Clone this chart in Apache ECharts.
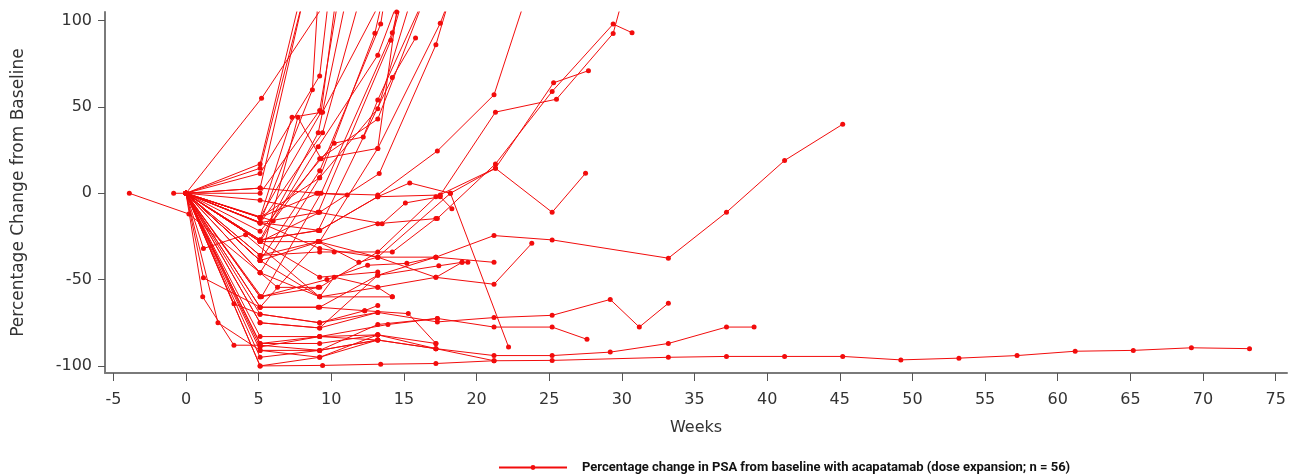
<!DOCTYPE html>
<html>
<head>
<meta charset="utf-8">
<script src="https://cdn.jsdelivr.net/npm/echarts@6/dist/echarts.min.js"></script>
<style>html,body{margin:0;padding:0;background:#fff}#c{width:1290px;height:476px}</style>
</head>
<body>
<div id="c"></div>
<script>
// tick labels
const xTicks = [-5,0,5,10,15,20,25,30,35,40,45,50,55,60,65,70,75];
const yTicks = [-100,-50,0,50,100];
const seriesName = 'Percentage change in PSA from baseline with acapatamab (dose expansion; n = 56)';

// one array per patient: [week, % change]
const p01 = [[0,0],[5.2,55],[9.4,108]];
const p02 = [[0,0],[5.1,17],[9.2,160]];
const p03 = [[0,0],[5.1,14.5],[9.2,150]];
const p04 = [[0,0],[5.1,3],[9.1,150]];
const p05 = [[0,0],[5.1,-17],[8.7,60],[9.1,115]];
const p06 = [[0,0],[5.1,11.5],[9.2,68],[13.2,360]];
const p07 = [[0,0],[5.1,-14],[9.3,47],[13.2,300]];
const p08 = [[0,0],[5.1,0],[9.2,48],[13.2,250]];
const p09 = [[0,0],[5.1,-27],[9.1,35],[13.2,200]];
const p10 = [[0,0],[5.1,-17.4],[9.4,35],[13.2,150]];
const p11 = [[0,0],[5.1,-28],[9.1,27],[13.2,80],[17.2,170]];
const p12 = [[0,0],[5.1,-39],[9.2,13],[13.4,98],[17.2,300]];
const p13 = [[0,0],[5.1,-46],[9.2,9],[13.0,92.7],[17.2,250]];
const p14 = [[0,0],[5.2,-60],[9.3,0],[14.2,93],[17.2,200]];
const p15 = [[0,0],[5.1,-17],[9.1,-11],[14.1,88.6],[17.2,180]];
const p16 = [[0,0],[5.1,-27],[9.1,-21.5],[14.2,67],[15.8,90]];
const p17 = [[0,0],[5.1,-28],[9.2,-11],[13.3,11.4],[17.2,86],[21.2,200]];
const p18 = [[0,0],[5.1,-39],[9.2,-28],[13.2,26],[17.5,98.5],[21.2,180]];
const p19 = [[0,0],[5.1,-14],[9.1,0],[13.2,-1],[17.3,24.5],[21.2,57],[25.2,160]];
const p20 = [[0,0],[5.1,-27],[9.2,-21.5],[13.2,-2],[17.5,-1],[21.3,47],[25.5,54.5],[29.4,92.6],[33.2,210]];
const p21 = [[0,0],[5.1,-36],[9.1,-28],[13.2,-17.6],[17.3,-14.6],[21.3,17],[25.2,59],[29.4,98],[30.7,93]];
const p22 = [[0,0],[5.1,-60],[9.2,-54.5],[13.2,-34],[17.2,-2],[21.3,14.5],[25.3,64],[27.7,71]];
const p23 = [[0,0],[5.1,-17],[9.2,-32],[13.2,-37],[18.2,0],[21.3,14.5],[25.2,-11],[27.5,11.6]];
const p24 = [[0,0],[5.1,-28],[9.1,-28],[13.2,-37],[17.2,-37],[21.2,-24.5],[25.2,-27],[33.2,-37.6],[37.2,-11],[41.2,19],[45.2,40]];
const p25 = [[0,0],[5.1,-39],[9.2,-60],[13.2,-54.5],[17.2,-48.7],[21.2,-52.7],[23.8,-29]];
const p26 = [[0,0],[5.1,-66],[9.2,-66],[13.2,-47.5],[17.4,-42],[19.0,-40],[19.4,-40]];
const p27 = [[0,0],[5.1,-60],[9.7,-50],[12.5,-41.7],[15.2,-40.6],[17.2,-37],[21.2,-40]];
const p28 = [[0,0],[5.1,-17],[9.2,-21.5],[13.2,-2],[15.4,6],[18.2,0],[22.2,-89]];
const p29 = [[0,0],[5.1,-75],[9.2,-78],[13.2,-69],[17.3,-74.5],[21.2,-72],[25.2,-70.7],[29.2,-61.5],[31.2,-77.5],[33.2,-63.7]];
const p30 = [[0,0],[5.1,-83],[9.2,-83],[13.9,-76],[17.3,-72.5],[21.2,-77.5],[25.2,-77.5],[27.6,-84.6]];
const p31 = [[0,0],[5.1,-91],[9.2,-91],[13.2,-85],[17.2,-90],[21.2,-94],[25.2,-94],[29.2,-92],[33.2,-87],[37.2,-77.5],[39.1,-77.5]];
const p32 = [[0,0],[5.1,-100],[9.4,-99.7],[13.4,-99],[17.2,-98.6],[21.2,-97],[25.2,-96.8],[33.2,-95],[37.2,-94.5],[41.2,-94.5],[45.2,-94.5],[49.2,-96.5],[53.2,-95.5],[57.2,-94],[61.2,-91.5],[65.2,-91],[69.2,-89.5],[73.2,-90]];
const p33 = [[0,0],[5.1,-87],[9.2,-87],[13.2,-82],[17.2,-87]];
const p34 = [[0,0],[5.1,-89],[9.2,-83],[13.2,-85],[17.2,-90]];
const p35 = [[0,0],[5.1,-95],[9.2,-91],[13.2,-76],[17.3,-72.5]];
const p36 = [[0,0],[1.2,-32],[4.1,-24],[9.2,-60],[14.2,-60]];
const p37 = [[0,0],[1.2,-49],[5.1,-66],[9.1,-66],[12.3,-68],[13.2,-65]];
const p38 = [[0,0],[1.15,-60],[3.3,-88],[5.1,-88],[9.2,-91],[13.2,-85]];
const p39 = [[0,0],[2.2,-75],[5.1,-91],[9.2,-95],[13.2,-82]];
const p40 = [[0,0],[3.3,-64],[5.1,-70],[9.2,-75],[13.2,-69]];
const p41 = [[-3.9,0],[0.2,-12],[5.1,-46],[6.3,-54.5],[9.1,-54.5]];
const p42 = [[-0.85,0],[0,0],[5.1,-28],[9.2,-48.6],[13.2,-45.6]];
const p43 = [[0,0],[5.1,3],[9.0,0],[11.1,-1]];
const p44 = [[0,0],[5.1,-4],[9.1,-11],[13.5,-17.6],[15.1,-5.6],[17.5,-2],[18.3,-9]];
const p45 = [[0,0],[6.0,-16],[9.2,20],[13.2,43],[17.2,130]];
const p46 = [[0,0],[5.1,-14],[9.2,9],[13.2,49],[16.5,140]];
const p47 = [[0,0],[5.1,-22],[10.2,29],[12.2,32.6],[13.2,54],[16.5,115]];
const p48 = [[0,0],[5.1,-36],[9.2,-34],[10.2,-34],[14.2,-34],[17.2,-14.6]];
const p49 = [[0,0],[5.1,-46],[9.2,-60],[10.2,-48.6],[13.2,-54.5],[14.2,-60]];
const p50 = [[0,0],[5.1,-70],[9.2,-75],[12.3,-68],[15.3,-69.7],[17.2,-87]];
const p51 = [[0,0],[5.1,-87],[9.2,-83],[13.2,-82],[17.2,-90],[21.2,-97]];
const p52 = [[0,0],[5.1,-100],[9.2,-95],[13.2,-85]];
const p53 = [[0,0],[5.1,-14],[7.3,44],[9.4,47],[13.2,108]];
const p54 = [[0,0],[5.1,-39],[7.7,44],[9.3,20],[13.2,26],[14.5,105]];
const p55 = [[0,0],[5.1,-66],[9.1,-28],[11.9,-40],[13.2,-37],[17.2,-48.7],[19.0,-40]];
const p56 = [[0,0],[5.1,-75],[9.2,-78],[13.2,-47.5],[17.2,-37]];

const patients = [p01,p02,p03,p04,p05,p06,p07,p08,p09,p10,p11,p12,p13,p14,p15,p16,p17,p18,p19,p20,
  p21,p22,p23,p24,p25,p26,p27,p28,p29,p30,p31,p32,p33,p34,p35,p36,p37,p38,p39,p40,
  p41,p42,p43,p44,p45,p46,p47,p48,p49,p50,p51,p52,p53,p54,p55,p56];

const RED = '#f20c0c';
const chart = echarts.init(document.getElementById('c'), null, {renderer:'canvas'});
const axisFont = "'DejaVu Sans', 'Liberation Sans', sans-serif";
chart.setOption({
  animation: false,
  backgroundColor: '#fff',
  grid: {left: 105, right: 3, top: 12, bottom: 103, containLabel: false},
  legend: {
    data: [{name: seriesName}],
    left: 493, top: 456,
    itemWidth: 68, itemHeight: 6, itemGap: 0,
    textStyle: {fontFamily: "'Liberation Sans Narrow', Roboto, sans-serif", fontWeight: 'bold', fontSize: 13, color: '#111', padding: [0,0,0,10]}
  },
  xAxis: {
    type: 'value', min: -5.575, max: 75.78,
    name: 'Weeks', nameLocation: 'middle', nameGap: 47,
    nameTextStyle: {fontFamily: axisFont, fontSize: 16, color: '#333'},
    splitLine: {show: false},
    axisLine: {show: true, onZero: false, lineStyle: {color: '#7a7a7a', width: 2}},
    axisTick: {show: true, length: 8, customValues: xTicks, lineStyle: {color: '#555', width: 1}},
    axisLabel: {customValues: xTicks, margin: 19, fontFamily: axisFont, fontSize: 16, color: '#333'}
  },
  yAxis: {
    type: 'value', min: -104.1, max: 105,
    name: 'Percentage Change from Baseline', nameLocation: 'middle', nameGap: 78, nameRotate: 90,
    nameTextStyle: {fontFamily: axisFont, fontSize: 17, color: '#333'},
    splitLine: {show: false},
    axisLine: {show: true, onZero: false, lineStyle: {color: '#7a7a7a', width: 2}},
    axisTick: {show: true, length: 7, customValues: yTicks, lineStyle: {color: '#555', width: 1}},
    axisLabel: {customValues: yTicks, margin: 13, fontFamily: axisFont, fontSize: 16, color: '#333'}
  },
  series: patients.map(d => ({
    name: seriesName,
    type: 'line',
    data: d,
    clip: true,
    symbol: 'circle',
    symbolSize: 5,
    showAllSymbol: true,
    color: RED,
    lineStyle: {color: RED, width: 1},
    itemStyle: {color: RED},
    emphasis: {disabled: true}
  }))
});
</script>
</body>
</html>
